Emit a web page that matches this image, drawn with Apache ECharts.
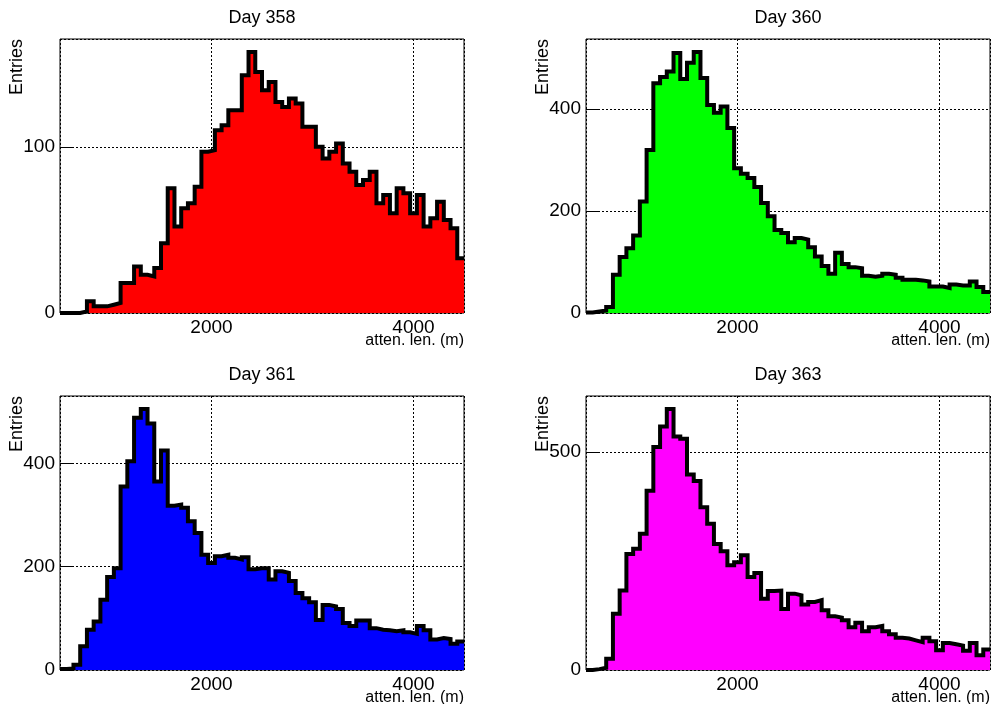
<!DOCTYPE html>
<html>
<head>
    <meta charset="utf-8">
    <script src="https://cdn.jsdelivr.net/npm/echarts@6/dist/echarts.min.js"></script>
</head>
<body style="margin:0">
<div id="main" style="width: 992px; height: 704px"></div>
<script type="text/javascript">
    // histogram range (m), 60 bins; bin contents
    var xMin = 500, xMax = 4500;
    var titles = ['Day 358', 'Day 360', 'Day 361', 'Day 363'];
    var yTicks = [100, 200, 200, 500];
    var day358 = [0, 0, 0, 1, 7, 4, 4, 5, 6, 18, 18, 28, 23, 22, 27, 42, 75, 52, 63, 66,
        76, 97, 98, 110, 113, 122, 122, 143, 157, 145, 134, 139, 127, 124, 129, 126, 112, 112, 100, 93,
        97, 102, 90, 85, 77, 80, 85, 66, 71, 60, 75, 72, 60, 71, 52, 57, 67, 56, 51, 33];
    var day360 = [1, 3, 5, 12, 75, 110, 127, 152, 219, 320, 451, 463, 474, 510, 459, 491, 512, 461, 408, 393,
        405, 363, 284, 273, 265, 247, 216, 190, 163, 157, 139, 147, 144, 129, 111, 92, 77, 118, 96, 90,
        88, 73, 71, 73, 77, 75, 69, 65, 65, 64, 62, 52, 52, 49, 56, 54, 54, 62, 51, 41];
    var day361 = [2, 3, 10, 46, 78, 94, 136, 180, 197, 355, 404, 488, 505, 477, 365, 425, 318, 320, 314, 288,
        265, 223, 207, 220, 223, 217, 214, 218, 195, 197, 197, 175, 191, 188, 172, 149, 139, 131, 97, 126,
        123, 118, 91, 85, 96, 96, 81, 78, 77, 75, 77, 73, 70, 85, 77, 59, 62, 60, 51, 55];
    var day363 = [0, 2, 5, 26, 129, 182, 266, 278, 312, 411, 511, 558, 598, 535, 530, 448, 433, 373, 335, 289,
        272, 240, 247, 263, 213, 222, 163, 181, 182, 140, 175, 171, 150, 156, 160, 137, 123, 120, 114, 98,
        108, 89, 98, 101, 89, 82, 74, 72, 68, 64, 74, 66, 45, 62, 59, 56, 44, 62, 34, 47];
    var hists = [day358, day360, day361, day363];

    var fillColors = ['#ff0000', '#00ff00', '#0000ff', '#ff00ff'];
    var pads = [[60, 39], [586, 39], [60, 396], [586, 396]];  // frame left, top
    var padW = 404, padH = 274;
    var font = 'Liberation Sans, Arial, sans-serif';

    var myChart = echarts.init(document.getElementById('main'));

    function plain(v) { return String(v); }  // no thousands separator

    var grid = [], xAxis = [], yAxis = [], series = [], graphic = [];
    hists.forEach(function (h, k) {
        var nb = h.length, bw = (xMax - xMin) / nb;
        var pts = h.map(function (v, i) { return [xMin + i * bw, v]; });
        pts.push([xMax, h[nb - 1]]);  // close last bin
        var ymax = Math.max.apply(null, h) * 1.05;

        grid.push({left: pads[k][0], top: pads[k][1], width: padW, height: padH,
            show: true, borderColor: '#000', borderWidth: 1});
        xAxis.push({
            type: 'value', gridIndex: k, min: xMin, max: xMax, splitNumber: 2,
            axisLine: {show: false},
            axisTick: {inside: true, length: 8, lineStyle: {color: '#000'}},
            axisLabel: {color: '#000', fontSize: 19, fontFamily: font, margin: 5, formatter: plain,
                showMinLabel: false, showMaxLabel: false},
            splitLine: {show: true, lineStyle: {color: '#000', type: [2, 2], width: 1}}
        });
        yAxis.push({
            type: 'value', gridIndex: k, min: 0, max: ymax, interval: yTicks[k],
            axisLine: {show: false},
            axisTick: {show: true, inside: true, length: 12, lineStyle: {color: '#000'}},
            axisLabel: {color: '#000', fontSize: 19, fontFamily: font, margin: 5, formatter: plain,
                showMaxLabel: false},
            splitLine: {show: true, lineStyle: {color: '#000', type: [2, 2], width: 1}}
        });
        series.push({
            type: 'line', xAxisIndex: k, yAxisIndex: k, step: 'end', data: pts,
            showSymbol: false, silent: true,
            lineStyle: {color: '#000', width: 4, join: 'miter'},
            areaStyle: {color: fillColors[k], opacity: 1}
        });
        var x0 = pads[k][0], y0 = pads[k][1];
        graphic.push({type: 'text', x: x0 + padW / 2, y: y0 - 21,
            style: {text: titles[k], font: '18px ' + font, fill: '#000', textAlign: 'center', textVerticalAlign: 'middle'}});
        graphic.push({type: 'text', x: x0 + padW, y: y0 + padH + 28,
            style: {text: 'atten. len. (m)', font: '16px ' + font, fill: '#000', textAlign: 'right', textVerticalAlign: 'middle'}});
        graphic.push({type: 'text', x: x0 - 43, y: y0, rotation: Math.PI / 2,
            style: {text: 'Entries', font: '18px ' + font, fill: '#000', textAlign: 'right', textVerticalAlign: 'middle'}});
    });

    var option = {
        animation: false,
        backgroundColor: '#fff',
        grid: grid, xAxis: xAxis, yAxis: yAxis, series: series, graphic: graphic
    };
    myChart.setOption(option);
</script>
</body>
</html>
